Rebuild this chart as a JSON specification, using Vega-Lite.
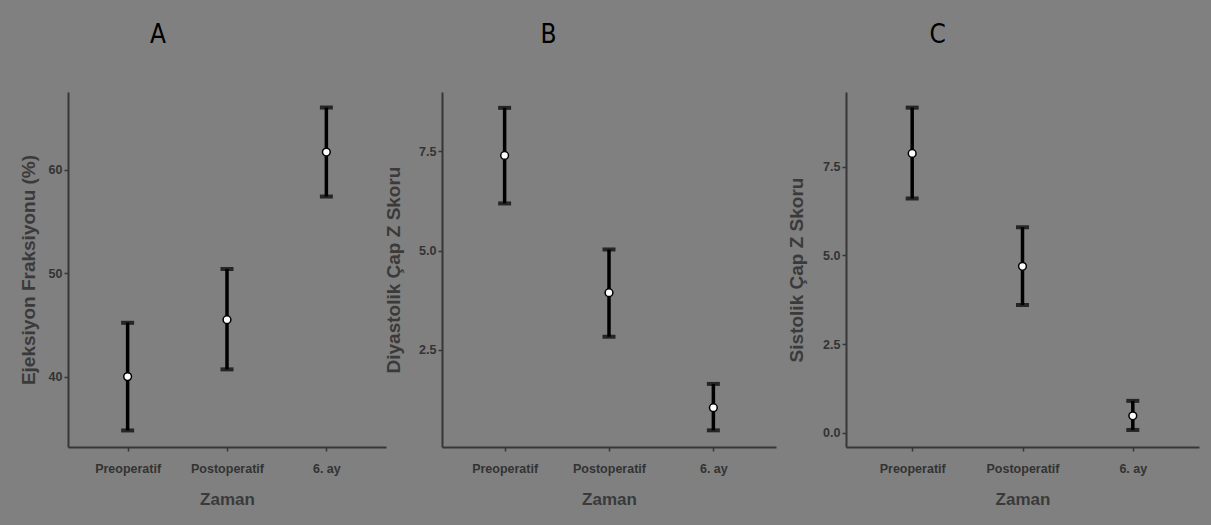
{
  "$schema": "https://vega.github.io/schema/vega-lite/v6.json",
  "background": "#808080",
  "padding": {"left": 19, "top": 22, "right": 13, "bottom": 25},
  "config": {
    "view": {"stroke": null},
    "font": "Liberation Sans",
    "axis": {
      "grid": false,
      "domainColor": "#363636",
      "domainWidth": 2,
      "tickColor": "#363636",
      "tickWidth": 1.5,
      "tickSize": 4,
      "labelColor": "#333333",
      "labelFont": "Liberation Sans",
      "labelFontWeight": "bold",
      "labelFontSize": 12.5,
      "titleColor": "#3a3a3a",
      "titleFont": "Liberation Sans",
      "titleFontWeight": "bold",
      "titleFontSize": 17
    },
    "axisY": {"titleFontSize": 19},
    "title": {"font": "Liberation Sans Narrow, DejaVu Sans Condensed, Liberation Sans", "fontSize": 26, "fontWeight": "normal", "color": "#000000", "anchor": "start", "offset": 44}
  },
  "datasets": {
    "d": [
      {"panel": "A", "zaman": "Preoperatif", "mean": 40.0, "lower": 34.8, "upper": 45.2},
      {"panel": "A", "zaman": "Postoperatif", "mean": 45.5, "lower": 40.7, "upper": 50.4},
      {"panel": "A", "zaman": "6. ay", "mean": 61.7, "lower": 57.4, "upper": 66.0},
      {"panel": "B", "zaman": "Preoperatif", "mean": 7.4, "lower": 6.19, "upper": 8.6},
      {"panel": "B", "zaman": "Postoperatif", "mean": 3.94, "lower": 2.83, "upper": 5.03},
      {"panel": "B", "zaman": "6. ay", "mean": 1.04, "lower": 0.47, "upper": 1.64},
      {"panel": "C", "zaman": "Preoperatif", "mean": 7.87, "lower": 6.6, "upper": 9.16},
      {"panel": "C", "zaman": "Postoperatif", "mean": 4.69, "lower": 3.6, "upper": 5.79},
      {"panel": "C", "zaman": "6. ay", "mean": 0.48, "lower": 0.08, "upper": 0.9}
    ]
  },
  "bounds": "flush",
  "spacing": 56,
  "hconcat": [
    {
      "width": 318, "height": 355,
      "title": {"text": "A", "dx": 131},
      "data": {"name": "d"},
      "transform": [{"filter": "datum.panel === 'A'"}],
      "encoding": {
        "x": {"field": "zaman", "type": "nominal", "sort": ["Preoperatif", "Postoperatif", "6. ay"], "scale": {"type": "point", "padding": 0.6}, "axis": {"title": "Zaman", "labelAngle": 0, "labelPadding": 11, "titlePadding": 17}}
      },
      "layer": [
        {"mark": {"type": "errorbar", "thickness": 3.5, "color": "#000000", "ticks": {"size": 13, "thickness": 4, "color": "#000000"}},
         "encoding": {"y": {"field": "lower", "type": "quantitative", "scale": {"domain": [33.2, 67.5], "nice": false, "zero": false}, "axis": {"title": "Ejeksiyon Fraksiyonu (%)", "values": [40, 50, 60], "format": "d", "titlePadding": 10}}, "y2": {"field": "upper"}}},
        {"mark": {"type": "point", "filled": true, "fill": "#ffffff", "stroke": "#000000", "strokeWidth": 1.5, "size": 60, "opacity": 1},
         "encoding": {"y": {"field": "mean", "type": "quantitative"}}}
      ]
    },
    {
      "bounds": "flush",
      "spacing": 70,
      "hconcat": [
        {
          "width": 334, "height": 355,
          "title": {"text": "B", "dx": 156},
          "data": {"name": "d"},
          "transform": [{"filter": "datum.panel === 'B'"}],
          "encoding": {
            "x": {"field": "zaman", "type": "nominal", "sort": ["Preoperatif", "Postoperatif", "6. ay"], "scale": {"type": "point", "padding": 0.6}, "axis": {"title": "Zaman", "labelAngle": 0, "labelPadding": 11, "titlePadding": 17}}
          },
          "layer": [
            {"mark": {"type": "errorbar", "thickness": 3.5, "color": "#000000", "ticks": {"size": 13, "thickness": 4, "color": "#000000"}},
             "encoding": {"y": {"field": "lower", "type": "quantitative", "scale": {"domain": [0.05, 9.0], "nice": false, "zero": false}, "axis": {"title": "Diyastolik Çap Z Skoru", "values": [2.5, 5, 7.5], "format": ".1f", "titlePadding": 15}}, "y2": {"field": "upper"}}},
            {"mark": {"type": "point", "filled": true, "fill": "#ffffff", "stroke": "#000000", "strokeWidth": 1.5, "size": 60, "opacity": 1},
             "encoding": {"y": {"field": "mean", "type": "quantitative"}}}
          ]
        },
        {
          "width": 353, "height": 355,
          "title": {"text": "C", "dx": 142},
          "data": {"name": "d"},
          "transform": [{"filter": "datum.panel === 'C'"}],
          "encoding": {
            "x": {"field": "zaman", "type": "nominal", "sort": ["Preoperatif", "Postoperatif", "6. ay"], "scale": {"type": "point", "padding": 0.6}, "axis": {"title": "Zaman", "labelAngle": 0, "labelPadding": 11, "titlePadding": 17}}
          },
          "layer": [
            {"mark": {"type": "errorbar", "thickness": 3.5, "color": "#000000", "ticks": {"size": 13, "thickness": 4, "color": "#000000"}},
             "encoding": {"y": {"field": "lower", "type": "quantitative", "scale": {"domain": [-0.4, 9.6], "nice": false, "zero": false}, "axis": {"title": "Sistolik Çap Z Skoru", "values": [0, 2.5, 5, 7.5], "format": ".1f", "titlePadding": 16}}, "y2": {"field": "upper"}}},
            {"mark": {"type": "point", "filled": true, "fill": "#ffffff", "stroke": "#000000", "strokeWidth": 1.5, "size": 60, "opacity": 1},
             "encoding": {"y": {"field": "mean", "type": "quantitative"}}}
          ]
        }
      ]
    }
  ]
}
